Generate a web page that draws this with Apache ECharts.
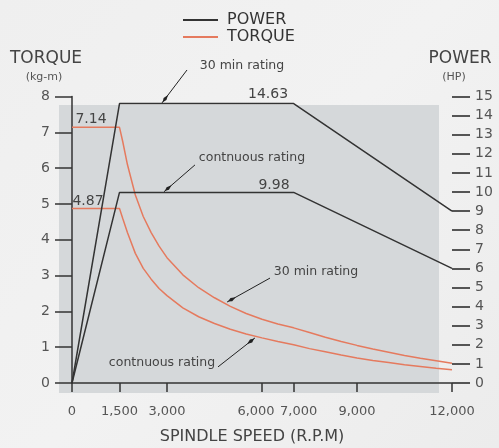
<!DOCTYPE html>
<html>
<head>
<meta charset="utf-8">
<script src="https://cdn.jsdelivr.net/npm/echarts@6/dist/echarts.min.js"></script>
<style>
html,body{margin:0;padding:0;}
#c{width:499px;height:448px;}
</style>
</head>
<body>
<div id="c"></div>
<script>
// ---- data ----
var xTicks = [0, 1500, 3000, 6000, 7000, 9000, 12000];
var power30Rpm = [0, 1500, 7000, 12000];
var power30Hp = [0, 14.63, 14.63, 9];
var powerContRpm = [0, 1500, 7000, 12000];
var powerContHp = [0, 9.98, 9.98, 6];
var torqueRpm = [0, 1500, 1600, 1750, 2000, 2250, 2500, 2750, 3000, 3500, 4000, 4500, 5000, 5500, 6000, 6500, 7000, 7500, 8000, 8500, 9000, 9500, 10000, 10500, 11000, 11500, 12000];
var torque30 = [7.14, 7.14, 6.75, 6.1, 5.25, 4.65, 4.2, 3.82, 3.5, 3.02, 2.66, 2.38, 2.14, 1.94, 1.78, 1.65, 1.54, 1.41, 1.28, 1.16, 1.05, 0.95, 0.86, 0.77, 0.69, 0.62, 0.55];
var torqueCont = [4.87, 4.87, 4.6, 4.2, 3.62, 3.2, 2.9, 2.64, 2.44, 2.1, 1.85, 1.66, 1.5, 1.37, 1.26, 1.16, 1.07, 0.96, 0.87, 0.78, 0.7, 0.63, 0.57, 0.51, 0.46, 0.41, 0.37];
// annotation labels: [text, rpm, torque, fontSize]
var noteTexts = [
  ['30 min rating', 5368, 8.85, 12.5],
  ['14.63', 6190, 8.07, 14],
  ['7.14', 600, 7.37, 14],
  ['4.87', 505, 5.06, 14],
  ['contnuous rating', 5684, 6.28, 12.5],
  ['9.98', 6379, 5.53, 14],
  ['30 min rating', 7705, 3.10, 12.5],
  ['contnuous rating', 2842, 0.56, 12.5]
];
// arrows: [tailRpm, tailTorque, headRpm, headTorque]
var noteArrows = [
  [3632, 8.74, 2842, 7.82],
  [3884, 6.09, 2905, 5.34],
  [6253, 2.93, 4895, 2.26],
  [4611, 0.45, 5779, 1.26]
];

function zip(a, b) { return a.map(function (v, i) { return [v, b[i]]; }); }

var FONT = 'DejaVu Sans';
var TXT = '#444';
var DARK = '#333';
var ORANGE = '#e57a5e';

var chart = echarts.init(document.getElementById('c'), null, {renderer: 'canvas'});

var option = {
  backgroundColor: {
    type: 'linear', x: 0, y: 0, x2: 1, y2: 1,
    colorStops: [{offset: 0, color: '#efefef'}, {offset: 0.5, color: '#f2f2f2'}, {offset: 1, color: '#ececec'}]
  },
  animation: false,
  textStyle: {fontFamily: FONT},
  legend: {
    orient: 'vertical', left: 178, top: 7, itemWidth: 35, itemHeight: 2, itemGap: 1, icon: 'rect',
    textStyle: {fontFamily: FONT, fontSize: 16, color: DARK, padding: [0, 0, 0, 4]},
    data: ['POWER', 'TORQUE']
  },
  grid: {left: 72, right: 47, top: 96.5, bottom: 65},
  xAxis: {
    type: 'value', min: 0, max: 12000,
    axisLine: {lineStyle: {color: DARK, width: 1.5}},
    axisTick: {customValues: xTicks, length: 9, lineStyle: {color: DARK, width: 1.5}},
    axisLabel: {customValues: xTicks, margin: 22, fontSize: 13, color: '#555', fontFamily: FONT,
      formatter: function (v) {
        var s = v.toLocaleString('en-US');
        if (v === 6000) return '{l|' + s + '}';
        if (v === 7000) return '{r|' + s + '}';
        return s;
      },
      rich: {
        l: {fontSize: 13, color: '#555', fontFamily: FONT, padding: [0, 12, 0, 0]},
        r: {fontSize: 13, color: '#555', fontFamily: FONT, padding: [0, 0, 0, 10]}
      }},
    splitLine: {show: false}
  },
  yAxis: [{
    type: 'value', min: 0, max: 8, interval: 1,
    axisLine: {show: true, lineStyle: {color: DARK, width: 1.5}},
    axisTick: {show: true, length: 17, lineStyle: {color: DARK, width: 1.5}},
    axisLabel: {margin: 22, fontSize: 14, color: '#555', fontFamily: FONT},
    splitLine: {show: false}
  }, {
    type: 'value', min: 0, max: 15, interval: 1, position: 'right',
    axisLine: {show: false},
    axisTick: {show: true, length: 18, lineStyle: {color: '#555', width: 2}},
    axisLabel: {margin: 23, fontSize: 14, color: '#555', fontFamily: FONT},
    splitLine: {show: false}
  }],
  series: [
    {name: 'POWER', type: 'line', yAxisIndex: 1, symbol: 'none', data: zip(power30Rpm, power30Hp),
      lineStyle: {color: DARK, width: 1.5}, itemStyle: {color: DARK}, z: 3},
    {name: 'POWER', type: 'line', yAxisIndex: 1, symbol: 'none', data: zip(powerContRpm, powerContHp),
      lineStyle: {color: DARK, width: 1.5}, itemStyle: {color: DARK}, z: 3},
    {name: 'TORQUE', type: 'line', yAxisIndex: 0, symbol: 'none',
      data: zip(torqueRpm, torque30), lineStyle: {color: ORANGE, width: 1.5}, itemStyle: {color: ORANGE}, z: 2},
    {name: 'TORQUE', type: 'line', yAxisIndex: 0, symbol: 'none',
      data: zip(torqueRpm, torqueCont), lineStyle: {color: ORANGE, width: 1.5}, itemStyle: {color: ORANGE}, z: 2}
  ]
};
chart.setOption(option);

function px(rpm, t) { return chart.convertToPixel({xAxisIndex: 0, yAxisIndex: 0}, [rpm, t]); }

var g = [];
// grey panel behind plot
g.push({type: 'rect', z: -10, silent: true, shape: {x: 59, y: 105, width: 380, height: 288},
  style: {fill: '#d5d8da'}});
// axis titles
g.push({type: 'text', x: 46, y: 59, style: {text: 'TORQUE', font: '17px ' + FONT, fill: TXT, align: 'center', verticalAlign: 'middle'}});
g.push({type: 'text', x: 44, y: 77, style: {text: '(kg-m)', font: '11px ' + FONT, fill: '#555', align: 'center', verticalAlign: 'middle'}});
g.push({type: 'text', x: 460, y: 59, style: {text: 'POWER', font: '17px ' + FONT, fill: TXT, align: 'center', verticalAlign: 'middle'}});
g.push({type: 'text', x: 454, y: 77, style: {text: '(HP)', font: '11px ' + FONT, fill: '#555', align: 'center', verticalAlign: 'middle'}});
g.push({type: 'text', x: 252, y: 437, style: {text: 'SPINDLE SPEED (R.P.M)', font: '16px ' + FONT, fill: TXT, align: 'center', verticalAlign: 'middle'}});

noteTexts.forEach(function (n) {
  var p = px(n[1], n[2]);
  g.push({type: 'text', x: p[0], y: p[1], z: 10,
    style: {text: n[0], font: n[3] + 'px ' + FONT, fill: TXT, align: 'center', verticalAlign: 'middle'}});
});
noteArrows.forEach(function (a) {
  var t = px(a[0], a[1]), h = px(a[2], a[3]);
  var dx = t[0] - h[0], dy = t[1] - h[1], L = Math.sqrt(dx * dx + dy * dy);
  var ux = dx / L, uy = dy / L, nx = -uy, ny = ux;
  g.push({type: 'line', z: 10, shape: {x1: t[0], y1: t[1], x2: h[0], y2: h[1]}, style: {stroke: '#222', lineWidth: 1}});
  g.push({type: 'polygon', z: 10, shape: {points: [
    [h[0] + ux * 1, h[1] + uy * 1],
    [h[0] + ux * 5 + nx * 1.8, h[1] + uy * 5 + ny * 1.8],
    [h[0] + ux * 10, h[1] + uy * 10],
    [h[0] + ux * 5 - nx * 1.8, h[1] + uy * 5 - ny * 1.8]
  ]}, style: {fill: '#222'}});
});
chart.setOption({graphic: g});
</script>
</body>
</html>
